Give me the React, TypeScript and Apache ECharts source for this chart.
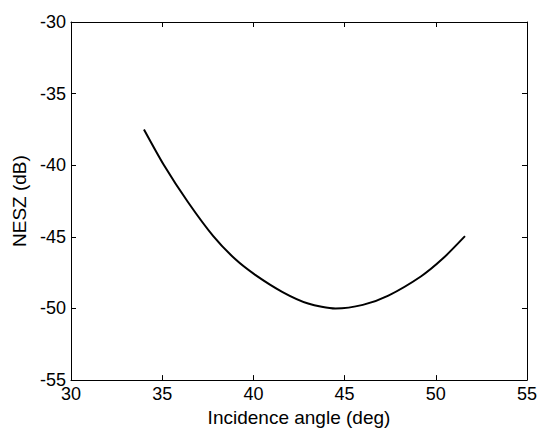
import React, { useEffect, useRef } from "react";
import * as echarts from "echarts";

// Incidence angle (deg) and the matching NESZ (dB)
const incidenceAngle = [34.0, 35.1, 36.4, 37.8, 39.0, 40.1, 41.6, 43.0, 44.5, 46.0, 47.4, 49.2, 50.4, 51.6];
const neszDb = [-37.5, -40.0, -42.55, -44.95, -46.55, -47.65, -48.85, -49.65, -50.0, -49.75, -49.1, -47.75, -46.5, -44.95];

const xRange = { min: 30, max: 55, step: 5 };
const yRange = { min: -55, max: -30, step: 5 };

const FONT = "'Liberation Sans', Arial, Helvetica, sans-serif";

export default function App() {
  const ref = useRef<HTMLDivElement>(null);

  useEffect(() => {
    if (!ref.current) return;
    const chart = echarts.init(ref.current, undefined, { renderer: "svg" });

    const line = { show: true, lineStyle: { color: "#000", width: 1 } };
    const tick = { show: true, inside: true, length: 5, lineStyle: { color: "#000", width: 1 } };

    chart.setOption({
      animation: false,
      backgroundColor: "#fff",
      grid: { left: 71, right: 12, top: 22, bottom: 50, containLabel: false },
      xAxis: [
        {
          type: "value",
          min: xRange.min,
          max: xRange.max,
          interval: xRange.step,
          name: "Incidence angle (deg)",
          nameLocation: "middle",
          nameGap: 22,
          nameTextStyle: { fontFamily: FONT, fontSize: 19, color: "#000" },
          axisLine: line,
          axisTick: tick,
          splitLine: { show: false },
          axisLabel: { fontFamily: FONT, fontSize: 18, color: "#000", margin: 5 },
        },
        {
          type: "value",
          position: "top",
          min: xRange.min,
          max: xRange.max,
          interval: xRange.step,
          axisLine: line,
          axisTick: tick,
          splitLine: { show: false },
          axisLabel: { show: false },
        },
      ],
      yAxis: [
        {
          type: "value",
          min: yRange.min,
          max: yRange.max,
          interval: yRange.step,
          name: "NESZ (dB)",
          nameLocation: "middle",
          nameGap: 42,
          nameTextStyle: { fontFamily: FONT, fontSize: 19, color: "#000" },
          axisLine: line,
          axisTick: tick,
          splitLine: { show: false },
          axisLabel: { fontFamily: FONT, fontSize: 18, color: "#000", margin: 5 },
        },
        {
          type: "value",
          position: "right",
          min: yRange.min,
          max: yRange.max,
          interval: yRange.step,
          axisLine: line,
          axisTick: tick,
          splitLine: { show: false },
          axisLabel: { show: false },
        },
      ],
      series: [
        {
          type: "line",
          data: incidenceAngle.map((a, i) => [a, neszDb[i]]),
          smooth: 0.25,
          showSymbol: false,
          lineStyle: { color: "#000", width: 2 },
        },
      ],
    });

    return () => chart.dispose();
  }, []);

  return (
    <div
      ref={ref}
      style={{ position: "fixed", left: 0, top: 0, width: 540, height: 432 }}
    />
  );
}
